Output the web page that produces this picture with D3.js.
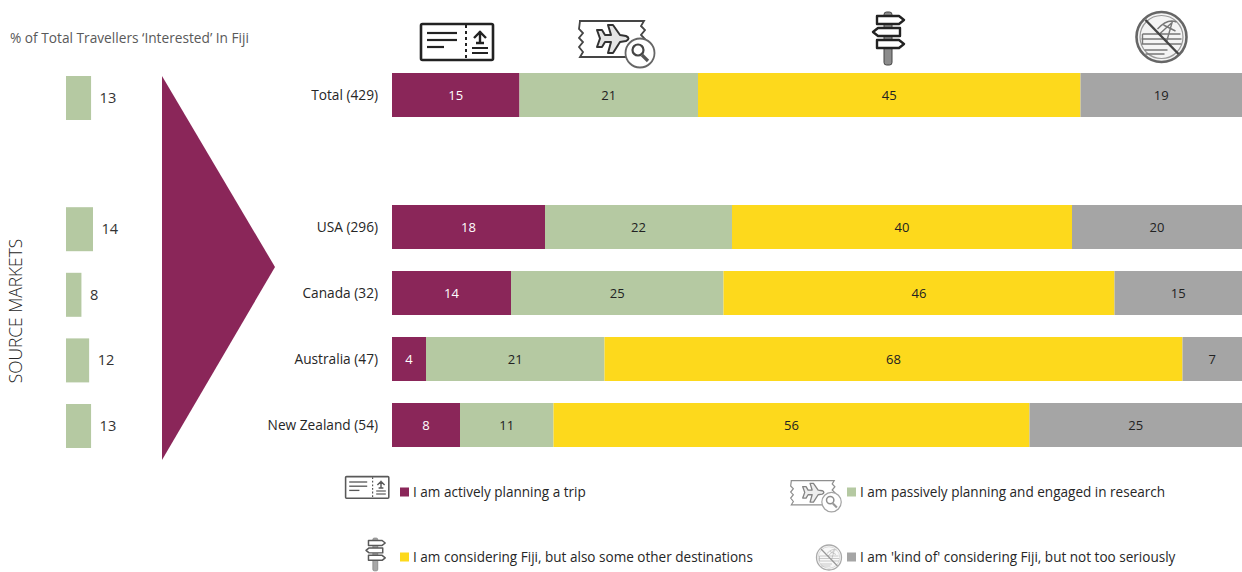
<!DOCTYPE html>
<html>
<head>
<meta charset="utf-8">
<script src="https://cdn.jsdelivr.net/npm/d3@7/dist/d3.min.js"></script>
<style>
html,body{margin:0;padding:0;background:#fff;overflow:hidden}
svg{display:block}
text{font-family:"Open Sans","Noto Sans",sans-serif}
</style>
</head>
<body>
<svg id="chart" width="1242" height="572"></svg>
<script>
// Intent-to-visit survey data, one value per market and stage
const markets = ["Total (429)", "USA (296)", "Canada (32)", "Australia (47)", "New Zealand (54)"];
const rowSlots = ["Total (429)", "gap", "USA (296)", "Canada (32)", "Australia (47)", "New Zealand (54)"];
const activelyPlanning = [15, 18, 14, 4, 8];
const passivelyPlanning = [21, 22, 25, 21, 11];
const consideringOthers = [45, 40, 46, 68, 56];
const kindOfConsidering = [19, 20, 15, 7, 25];
const interestedShare = [13, 14, 8, 12, 13];
const stageColors = ["#8a2659", "#b5c9a2", "#fdd91c", "#a5a5a5"];
const stageLabelColors = ["#fff", "#222", "#222", "#222"];
const legendLabels = [
  "I am actively planning a trip",
  "I am passively planning and engaged in research",
  "I am considering Fiji, but also some other destinations",
  "I am 'kind of' considering Fiji, but not too seriously"
];

const svg = d3.select("#chart");
const stages = [activelyPlanning, passivelyPlanning, consideringOthers, kindOfConsidering];
const barH = 44;

const x = d3.scaleLinear().domain([0, 100]).range([392, 1242]);
const y = d3.scaleBand().domain(rowSlots).range([73, 447]).paddingInner(22 / 66);
const shareY = d3.scaleBand().domain(rowSlots).range([76, 448]).paddingInner(21.6 / 65.6);
const shareW = d3.scaleLinear().domain([0, 14]).range([0, 27]);

// Blur softens the line icons a little
const defs = svg.append("defs");
defs.append("filter").attr("id", "soft").append("feGaussianBlur").attr("stdDeviation", 0.65);
defs.append("filter").attr("id", "softer").append("feGaussianBlur").attr("stdDeviation", 0.9);

// Heading and rotated axis title
svg.append("text").attr("x", 10).attr("y", 43).attr("font-size", 13.7).attr("fill", "#595959")
  .text("% of Total Travellers ‘Interested’ In Fiji");
svg.append("text").attr("transform", "translate(21.5,311) rotate(-90)").attr("text-anchor", "middle")
  .attr("font-size", 17.4).attr("font-weight", 300).attr("fill", "#262626").text("SOURCE MARKETS");

// Share of interested travellers by market
const share = svg.append("g");
markets.forEach(m => {
  const v = interestedShare[markets.indexOf(m)];
  const w = shareW(v);
  share.append("rect").attr("x", 66).attr("y", shareY(m)).attr("width", w).attr("height", barH).attr("fill", stageColors[1]);
  share.append("text").attr("x", 66 + w + 8.5).attr("y", shareY(m) + barH / 2 + 5).attr("font-size", 14.6).attr("fill", "#333").text(v);
});

// Arrow linking the source markets to the bars
svg.append("path").attr("d", d3.line()([[162, 76], [275, 267], [162, 460]]) + "Z").attr("fill", stageColors[0]);

// Stacked bars
const rows = svg.append("g");
markets.forEach((m, i) => {
  let acc = 0;
  stages.forEach((s, k) => {
    const v = s[i];
    rows.append("rect").attr("x", x(acc)).attr("y", y(m)).attr("width", x(acc + v) - x(acc)).attr("height", barH).attr("fill", stageColors[k]);
    rows.append("text").attr("x", x(acc + v / 2)).attr("y", y(m) + barH / 2 + 5).attr("text-anchor", "middle")
      .attr("font-size", 13).attr("fill", stageLabelColors[k]).text(v);
    acc += v;
  });
  rows.append("text").attr("x", 378).attr("y", y(m) + barH / 2 + 4.5).attr("text-anchor", "end")
    .attr("font-size", 13.7).attr("fill", "#262626").text(m);
});

// Line icons, drawn in their own local coordinates
function ticketIcon(g) {
  const c = "#222";
  g.append("rect").attr("x", 1).attr("y", 1).attr("width", 72).attr("height", 36).attr("rx", 1.5).attr("fill", "#fff").attr("stroke", c).attr("stroke-width", 2.6);
  g.append("line").attr("x1", 46).attr("x2", 46).attr("y1", 2).attr("y2", 36).attr("stroke", c).attr("stroke-width", 2).attr("stroke-dasharray", "3 3");
  [[7, 37, 10], [7, 37, 17], [7, 24, 24]].forEach(l =>
    g.append("line").attr("x1", l[0]).attr("x2", l[1]).attr("y1", l[2]).attr("y2", l[2]).attr("stroke", c).attr("stroke-width", 2.2));
  g.append("path").attr("d", "M60 8 L60 20 M54 15 L60 9 L66 15 M56 20 L64 20").attr("fill", "none").attr("stroke", c).attr("stroke-width", 2.4);
  [25, 30].forEach(v => g.append("line").attr("x1", 52).attr("x2", 68).attr("y1", v).attr("y2", v).attr("stroke", c).attr("stroke-width", 2));
}
function flightIcon(g) {
  const c = "#444";
  g.append("path").attr("d", "M1 1 H66 L63 6 L67 10 L63 15 L67 19 L63 24 L66 28 M50 37 H2 L5 32 L1 27 L5 22 L1 18 L5 13 L1 9 L2 1")
    .attr("fill", "none").attr("stroke", c).attr("stroke-width", 1.8);
  g.append("path").attr("d", "M19 10 L24 10 L27 15 L33 15 L30 5 L35 5 L42 15 L48 16 Q53 18.500 48 21 L42 22 L35 33 L30 33 L33 22 L27 22 L24 27 L19 27 L22 18.500 Z")
    .attr("fill", "#e4e4e4").attr("stroke", "#333").attr("stroke-width", 2).attr("stroke-linejoin", "round");
  g.append("circle").attr("cx", 62).attr("cy", 33).attr("r", 14.5).attr("fill", "#fff").attr("stroke", "#666").attr("stroke-width", 1.8);
  g.append("circle").attr("cx", 60).attr("cy", 30).attr("r", 5.5).attr("fill", "#fff").attr("stroke", "#444").attr("stroke-width", 2.2);
  g.append("line").attr("x1", 64).attr("y1", 35).attr("x2", 70).attr("y2", 41).attr("stroke", "#555").attr("stroke-width", 3.2);
}
function signIcon(g) {
  const c = "#222";
  g.append("rect").attr("x", 11).attr("y", 0).attr("width", 8).attr("height", 53).attr("rx", 2.5).attr("fill", "#8c8c8c").attr("stroke", "#444").attr("stroke-width", 1);
  g.append("path").attr("d", "M4 4 H26 L31 8 L26 12 H4 Z M27 16 H5 L0 20 L5 24 H27 Z M4 28 H26 L31 32 L26 36 H4 Z")
    .attr("fill", "#fff").attr("stroke", c).attr("stroke-width", 2.4).attr("stroke-linejoin", "round");
}
function noBeachIcon(g) {
  const c = "#777";
  g.append("circle").attr("r", 25).attr("fill", "#f4f4f4").attr("stroke", "#666").attr("stroke-width", 2.6);
  g.append("circle").attr("r", 21.500).attr("fill", "none").attr("stroke", "#999").attr("stroke-width", 1.2);
  g.append("path").attr("d", "M-19 -3 H19 M-20 2 H20 M-20 7 H20 M-17 13 H6 M-16 17 H3 M-19 -3 V7 M-4 -8 Q6 -19 15 -15 M11 -16 L5 5 M2 -12 L14 -6 M10 -14 L-2 -3")
    .attr("fill", "none").attr("stroke", c).attr("stroke-width", 1.4);
  g.append("line").attr("x1", -16).attr("y1", -17).attr("x2", 17).attr("y2", 17).attr("stroke", "#444").attr("stroke-width", 2.4);
}

const icons = svg.append("g");
function place(fn, tx, ty, s, opacity, filter) {
  const g = icons.append("g").attr("transform", `translate(${tx},${ty}) scale(${s})`).attr("opacity", opacity).attr("filter", `url(#${filter})`);
  fn(g);
}
place(ticketIcon, 420, 23, 1, 1, "soft");
place(flightIcon, 578, 20, 1, 1, "soft");
place(signIcon, 873, 12, 1, 1, "soft");
place(noBeachIcon, 1161.500, 37, 1, 1, "soft");
place(ticketIcon, 345, 476, 0.6, 0.75, "softer");
place(flightIcon, 790, 480, 0.67, 0.6, "softer");
place(signIcon, 366, 538, 0.62, 0.75, "softer");
place(noBeachIcon, 829, 557.500, 0.5, 0.55, "softer");

// Legend
const legendX = [400, 847, 400, 847];
const legendY = [492, 492, 557, 557];
legendLabels.forEach((t, i) => {
  svg.append("rect").attr("x", legendX[i]).attr("y", legendY[i] - 4.500).attr("width", 9).attr("height", 9).attr("fill", stageColors[i]);
  svg.append("text").attr("x", legendX[i] + 13).attr("y", legendY[i] + 5).attr("font-size", 13.55).attr("fill", "#262626").text(t);
});
</script>
</body>
</html>
